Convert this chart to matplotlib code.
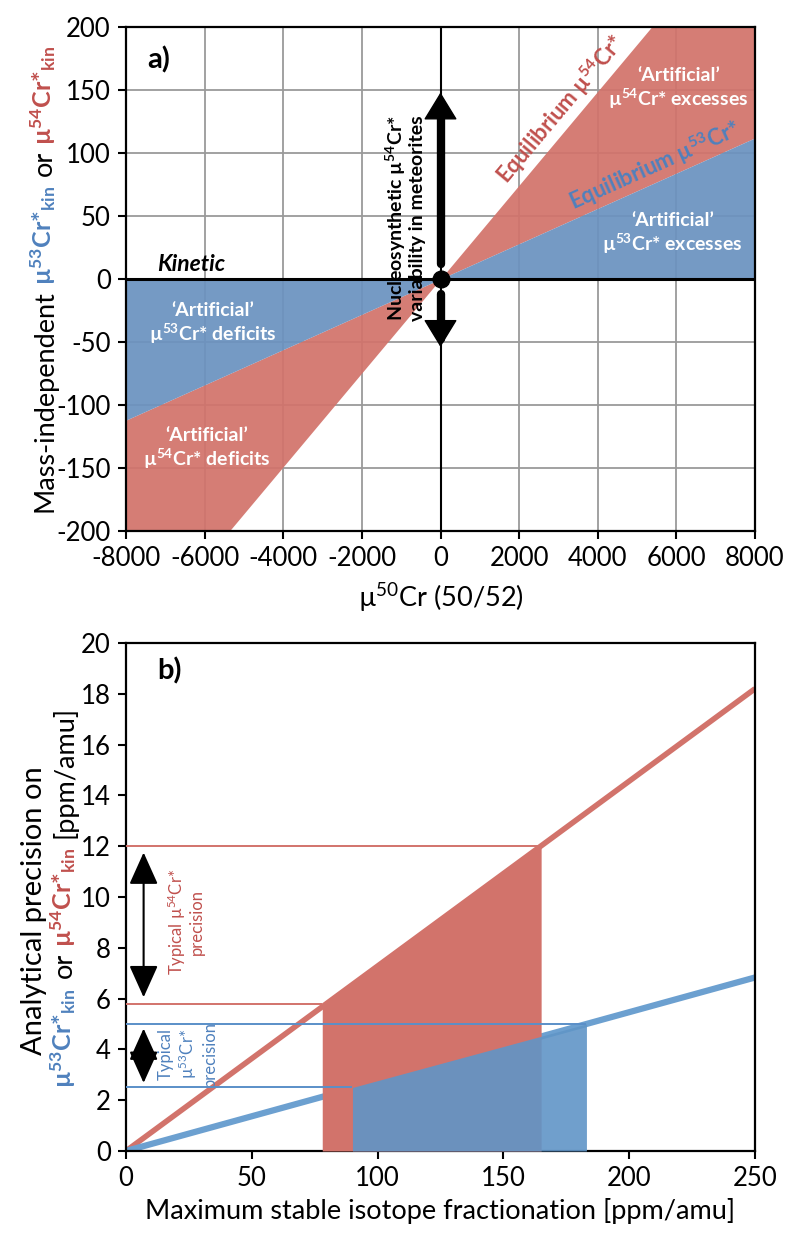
import numpy as np
import matplotlib
matplotlib.use("Agg")
import matplotlib.pyplot as plt

plt.rcParams['font.family'] = ['Lato', 'DejaVu Sans']
plt.rcParams['mathtext.fontset'] = 'custom'
plt.rcParams['mathtext.rm'] = 'Lato'
plt.rcParams['mathtext.bf'] = 'Lato:bold'
plt.rcParams['mathtext.it'] = 'Lato:italic'
plt.rcParams['axes.unicode_minus'] = False

# ---- panel a data ----
mu50_x = [-8000, 0, 8000]
eq53_y = [-112, 0, 112]     # equilibrium mu53Cr* line
eq54_y = [-298, 0, 298]     # equilibrium mu54Cr* line
nucleo_up = [12, 148]       # nucleosynthetic variability arrow (up)
nucleo_down = [-12, -54]    # (down)

# ---- panel b data ----
frac_x = [0, 250]
prec54_y = [0, 18.2]
prec53_y = [0, 6.83]
band54_x = [78, 165]
band54_y = [5.8, 12.0]
band53_x = [90, 183]
band53_y = [2.5, 5.0]

RED = '#D2736B'
BLUE = '#6B92C0'
RED_TXT = '#C0504D'
BLUE_TXT = '#4F81BD'
TICK_FS = 18.5
LAB_FS = 19.5

fig = plt.figure(figsize=(8, 12.42), dpi=100)
ax1 = fig.add_axes([0.1575, 0.5725, 0.78625, 0.4058])
ax2 = fig.add_axes([0.1575, 0.0733, 0.78625, 0.4090])

for ax in (ax1, ax2):
    for sp in ax.spines.values():
        sp.set_linewidth(1.6)
    ax.tick_params(direction='out', length=6, width=1.5, labelsize=TICK_FS, pad=5)

# ---------------- panel a ----------------
ax1.set_xlim(-8000, 8000)
ax1.set_ylim(-200, 200)
ax1.set_xticks(np.arange(-8000, 8001, 2000))
ax1.set_yticks(np.arange(-200, 201, 50))
ax1.set_axisbelow(True)
ax1.grid(color='#9a9a9a', lw=1.3)

ax1.fill_between(mu50_x, eq53_y, eq54_y, color=RED, alpha=0.93, lw=0, zorder=1)
ax1.fill_between(mu50_x, 0, eq53_y, color=BLUE, alpha=0.93, lw=0, zorder=1)
ax1.axhline(0, color='k', lw=2.2, zorder=3)
ax1.axvline(0, color='k', lw=1.5, zorder=3)

for seg in (nucleo_up, nucleo_down):
    ax1.plot([0, 0], [seg[0], seg[1] * 0.88], color='k', lw=6, solid_capstyle='round', zorder=4)
    ax1.annotate('', xy=(0, seg[1]), xytext=(0, seg[1] * 0.85),
                 arrowprops=dict(arrowstyle='-|>,head_length=0.9,head_width=0.55',
                                 color='k', lw=1, mutation_scale=20, shrinkA=0, shrinkB=0),
                 zorder=4)
ax1.plot(0, 0, 'o', color='k', ms=12, zorder=5)

ax1.text(-7450, 174, 'a)', fontsize=21, fontweight='bold', va='center', ha='left')
ax1.text(-7200, 3, 'Kinetic', fontsize=16.5, fontweight='bold', style='italic', va='bottom', ha='left')
ax1.text(-900, 48, 'Nucleosynthetic µ$^{\\mathbf{54}}$Cr*\nvariability in meteorites',
         rotation=90, fontsize=14, fontweight='bold', ha='center', va='center',
         multialignment='center', linespacing=1.1, zorder=6)

fig.canvas.draw()
def line_angle(ax, xs, ys):
    p = ax.transData.transform([(xs[0], ys[0]), (xs[-1], ys[-1])])
    return np.degrees(np.arctan2(p[1, 1] - p[0, 1], p[1, 0] - p[0, 0]))

ang54 = line_angle(ax1, mu50_x, eq54_y)
ang53 = line_angle(ax1, mu50_x, eq53_y)
ax1.text(3050, 135, 'Equilibrium µ$^{\\mathbf{54}}$Cr*', rotation=ang54, rotation_mode='anchor',
         color=RED_TXT, fontsize=16, fontweight='bold', ha='center', va='center')
ax1.text(5450, 90, 'Equilibrium µ$^{\\mathbf{53}}$Cr*', rotation=ang53, rotation_mode='anchor',
         color=BLUE_TXT, fontsize=16, fontweight='bold', ha='center', va='center')

white = dict(color='white', fontsize=14, fontweight='bold', ha='center', va='center',
             multialignment='center', linespacing=1.15)
ax1.text(6050, 151, '\u2018Artificial\u2019\nµ$^{\\mathbf{54}}$Cr* excesses', **white)
ax1.text(5900, 36, '\u2018Artificial\u2019\nµ$^{\\mathbf{53}}$Cr* excesses', **white)
ax1.text(-5800, -36, '\u2018Artificial\u2019\nµ$^{\\mathbf{53}}$Cr* deficits', **white)
ax1.text(-5950, -135, '\u2018Artificial\u2019\nµ$^{\\mathbf{54}}$Cr* deficits', **white)

ax1.set_xlabel('µ$^{50}$Cr (50/52)', fontsize=LAB_FS, labelpad=7)

# ---------------- panel b ----------------
ax2.set_xlim(0, 250)
ax2.set_ylim(0, 20)
ax2.set_xticks(np.arange(0, 251, 50))
ax2.set_yticks(np.arange(0, 21, 2))

ax2.plot(frac_x, prec54_y, color=RED, lw=4, zorder=2, solid_capstyle='butt')
ax2.plot(frac_x, prec53_y, color='#6CA0D0', lw=4.5, zorder=2, solid_capstyle='butt')
ax2.fill_between(band54_x, 0, band54_y, color=RED, lw=0, zorder=3)
ax2.fill_between(band53_x, 0, band53_y, color='#6095C7', alpha=0.9, lw=0, zorder=4)

ax2.hlines([band54_y[1]], 0, band54_x[1], color=RED, lw=1.4, zorder=5)
ax2.hlines([band54_y[0]], 0, band54_x[0], color=RED, lw=1.4, zorder=5)
ax2.hlines([band53_y[1]], 0, band53_x[1], color='#5A8FC8', lw=1.4, zorder=5)
ax2.hlines([band53_y[0]], 0, band53_x[0], color='#5A8FC8', lw=1.4, zorder=5)

ax2.annotate('', xy=(7, 11.75), xytext=(7, 6.05),
             arrowprops=dict(arrowstyle='<|-|>,head_length=1.0,head_width=0.45', color='k',
                             lw=1.5, mutation_scale=20, shrinkA=0, shrinkB=0))
ax2.annotate('', xy=(7, 4.82), xytext=(7, 2.68),
             arrowprops=dict(arrowstyle='<|-|>,head_length=1.0,head_width=0.45', color='k',
                             lw=1.5, mutation_scale=20, shrinkA=0, shrinkB=0))
ax2.text(23.5, 9.0, 'Typical µ$^{54}$Cr*\nprecision', rotation=90, color=RED_TXT,
         fontsize=12, ha='center', va='center', multialignment='center',
         linespacing=1.1)
ax2.text(24.5, 3.8, 'Typical\nµ$^{53}$Cr*\nprecision', rotation=90, color=BLUE_TXT,
         fontsize=12, ha='center', va='center', multialignment='center',
         linespacing=1.2)

ax2.text(12.5, 18.9, 'b)', fontsize=21, fontweight='bold', va='center', ha='left')
ax2.set_xlabel('Maximum stable isotope fractionation [ppm/amu]', fontsize=LAB_FS, labelpad=5)


# ---- multi-coloured y labels ----
def stacked_label(x, yc, pieces, gaps):
    r = fig.canvas.get_renderer()
    texts = []
    for s, c, w, fs in pieces:
        t = fig.text(x, 0, s, color=c, fontweight=w, fontsize=fs, rotation=90,
                     rotation_mode='anchor', ha='left', va='baseline')
        texts.append(t)
    hs = [t.get_window_extent(r).height for t in texts]
    H = fig.bbox.height
    y0 = yc * H - (sum(hs) + sum(gaps)) / 2
    for i, (t, h) in enumerate(zip(texts, hs)):
        t.set_y(y0 / H)
        y0 += h + (gaps[i] if i < len(gaps) else 0)


MU53 = 'µ$^{\\mathbf{53}}$Cr*$_{\\mathbf{kin}}$'
MU54 = 'µ$^{\\mathbf{54}}$Cr*$_{\\mathbf{kin}}$'
BOLD_FS = 18

stacked_label(0.065, 0.7754, [
    ('Mass-independent', 'black', 'normal', LAB_FS),
    (MU53, BLUE_TXT, 'bold', BOLD_FS),
    ('or', 'black', 'normal', LAB_FS),
    (MU54, RED_TXT, 'bold', BOLD_FS),
], [5, 10, 6])

stacked_label(0.052, 0.2665, [('Analytical precision on', 'black', 'normal', 21)], [])
stacked_label(0.09, 0.2780, [
    (MU53, BLUE_TXT, 'bold', BOLD_FS),
    ('or', 'black', 'normal', LAB_FS),
    (MU54, RED_TXT, 'bold', BOLD_FS),
    ('[ppm/amu]', 'black', 'normal', LAB_FS),
], [11, 6, 10])

fig.savefig('out.png', dpi=100)
